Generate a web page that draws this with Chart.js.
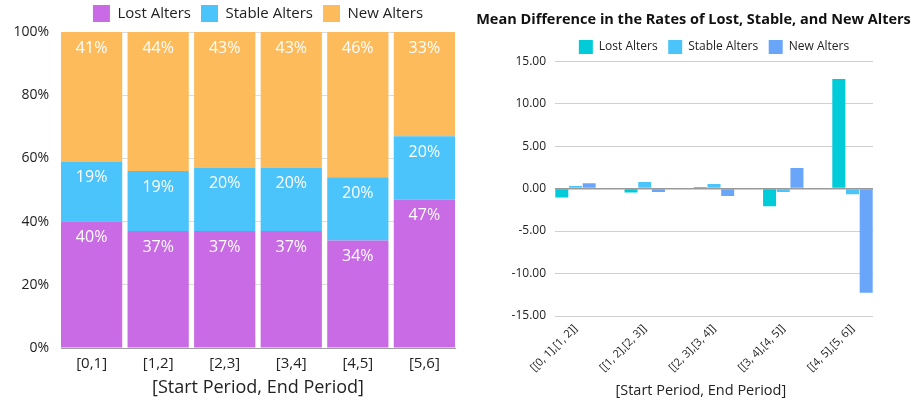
<!DOCTYPE html>
<html>
<head>
<meta charset="utf-8">
<script src="https://cdn.jsdelivr.net/npm/chart.js@4/dist/chart.umd.min.js"></script>
<style>
  html, body { margin: 0; padding: 0; background: #ffffff; }
  body { width: 917px; height: 405px; position: relative; overflow: hidden; }
  #wrapL { position: absolute; left: 0; top: 0; width: 465px; height: 405px; }
  #wrapR { position: absolute; left: 470px; top: 0; width: 447px; height: 405px; }
</style>
</head>
<body>
<div id="wrapL"><canvas id="left"></canvas></div>
<div id="wrapR"><canvas id="right"></canvas></div>
<script>
// ---------- data ----------
const periods = ["[0,1]", "[1,2]", "[2,3]", "[3,4]", "[4,5]", "[5,6]"];
const lostShare = [40, 37, 37, 37, 34, 47];
const stableShare = [19, 19, 20, 20, 20, 20];
const newShare = [41, 44, 43, 43, 46, 33];
const yPercentTicks = [0, 20, 40, 60, 80, 100];

const transitions = ["[[0, 1],[1, 2]]", "[[1, 2],[2, 3]]", "[[2, 3],[3, 4]]", "[[3, 4],[4, 5]]", "[[4, 5],[5, 6]]"];
const lostDiff = [-1.05, -0.47, 0.20, -2.07, 12.90];
const stableDiff = [0.31, 0.78, 0.55, -0.39, -0.66];
const newDiff = [0.63, -0.39, -0.86, 2.42, -12.26];
const yDiffTicks = [-15, -10, -5, 0, 5, 10, 15];

const FONT = "'Open Sans', 'DejaVu Sans', sans-serif";
const TEXT = '#222222';

// in-bar value labels (white, near top of each segment)
const valueLabels = {
  id: 'valueLabels',
  afterDatasetsDraw(chart) {
    const ctx = chart.ctx;
    ctx.save();
    ctx.fillStyle = '#ffffff';
    ctx.font = "16px " + FONT;
    ctx.textAlign = 'center';
    ctx.textBaseline = 'middle';
    chart.data.datasets.forEach((ds, di) => {
      const meta = chart.getDatasetMeta(di);
      meta.data.forEach((bar, i) => {
        const v = ds.data[i].y;
        ctx.fillText(v + '%', bar.x, bar.y + 16);
      });
    });
    ctx.restore();
  }
};

// ---------- left: 100% stacked bars ----------
new Chart(document.getElementById('left'), {
  type: 'bar',
  data: {
    datasets: [
      { label: 'Lost Alters', data: lostShare.map((v, i) => ({ x: i, y: v })), backgroundColor: '#C86BE4' },
      { label: 'Stable Alters', data: stableShare.map((v, i) => ({ x: i, y: v })), backgroundColor: '#4BC3FB' },
      { label: 'New Alters', data: newShare.map((v, i) => ({ x: i, y: v })), backgroundColor: '#FDBB5C' }
    ]
  },
  options: {
    responsive: true,
    maintainAspectRatio: false,
    animation: false,
    layout: { padding: { top: -5, left: 0, right: 10, bottom: 0 } },
    datasets: { bar: { categoryPercentage: 0.92, barPercentage: 1.0, borderWidth: 0 } },
    plugins: {
      legend: {
        position: 'top',
        fullSize: false,
        labels: { boxWidth: 17, boxHeight: 17, padding: 10, color: TEXT, font: { family: FONT, size: 15 } }
      },
      tooltip: { enabled: false },
      valueLabels: {}
    },
    scales: {
      x: {
        type: 'linear',
        stacked: true,
        offset: false,
        min: -0.46, max: 5.46,
        afterBuildTicks(scale) { scale.ticks = periods.map((_, i) => ({ value: i })); },
        afterFit(scale) { scale.height = 57; },
        grid: { display: false, drawTicks: false },
        border: { display: true, color: '#9e9e9e', width: 1 },
        ticks: {
          padding: 7, color: TEXT, font: { family: FONT, size: 15 },
          maxRotation: 0, autoSkip: false,
          callback: (v) => periods[v]
        },
        title: {
          display: true, text: '[Start Period, End Period]', color: TEXT,
          font: { family: FONT, size: 18 }, padding: { top: 0, bottom: 6 }
        }
      },
      y: {
        stacked: true,
        min: 0, max: 100,
        afterBuildTicks(scale) { scale.ticks = yPercentTicks.map(v => ({ value: v })); },
        afterFit(scale) { scale.width = 61; },
        grid: { color: '#dcdcdc', drawTicks: false },
        border: { display: false },
        ticks: { padding: 12, color: TEXT, font: { family: FONT, size: 14 }, callback: (v) => v + '%' }
      }
    }
  },
  plugins: [valueLabels]
});

// ---------- right: grouped mean differences ----------
new Chart(document.getElementById('right'), {
  type: 'bar',
  data: {
    datasets: [
      { label: 'Lost Alters', data: lostDiff.map((v, i) => ({ x: i, y: v })), backgroundColor: '#00CBD9' },
      { label: 'Stable Alters', data: stableDiff.map((v, i) => ({ x: i, y: v })), backgroundColor: '#4BC4FA' },
      { label: 'New Alters', data: newDiff.map((v, i) => ({ x: i, y: v })), backgroundColor: '#69A6FA' }
    ]
  },
  options: {
    responsive: true,
    maintainAspectRatio: false,
    animation: false,
    layout: { padding: 0 },
    datasets: { bar: { categoryPercentage: 0.593, barPercentage: 0.95, borderWidth: 0 } },
    plugins: {
      title: {
        display: true,
        text: 'Mean Difference in the Rates of Lost, Stable, and New Alters',
        color: '#111111',
        font: { family: FONT, size: 14.5, weight: 'bold' },
        padding: { top: 10.8, bottom: 1.3 }
      },
      legend: {
        position: 'top',
        fullSize: false,
        maxHeight: 31.7,
        labels: { boxWidth: 14, boxHeight: 14, padding: 10.5, color: TEXT, font: { family: FONT, size: 12 } }
      },
      tooltip: { enabled: false }
    },
    scales: {
      x: {
        type: 'linear',
        offset: false,
        min: -0.296, max: 4.296,
        afterBuildTicks(scale) { scale.ticks = transitions.map((_, i) => ({ value: i })); },
        afterFit(scale) { scale.height = 89; },
        grid: { display: false, drawTicks: false },
        border: { display: false },
        ticks: {
          padding: 6, color: TEXT, font: { family: FONT, size: 11 },
          minRotation: 45, maxRotation: 45, autoSkip: false,
          callback: (v) => transitions[v]
        },
        title: {
          display: true, text: '[Start Period, End Period]       ', color: TEXT,
          font: { family: FONT, size: 14.5 }, padding: { top: 4, bottom: 5 }
        }
      },
      y: {
        min: -15, max: 15,
        afterBuildTicks(scale) { scale.ticks = yDiffTicks.map(v => ({ value: v })); },
        afterFit(scale) { scale.width = 85; },
        grid: {
          drawTicks: false,
          color: (c) => (c.tick && c.tick.value === 0) ? '#9a9a9a' : '#d0d0d0',
          lineWidth: (c) => (c.tick && c.tick.value === 0) ? 1.5 : 1
        },
        border: { display: false },
        ticks: { padding: 9, color: TEXT, font: { family: FONT, size: 12 }, callback: (v) => Number(v).toFixed(2) }
      },
      spacer: {
        position: 'right',
        display: true,
        afterFit(scale) { scale.width = 44; },
        grid: { display: false, drawTicks: false },
        border: { display: false },
        ticks: { display: false }
      }
    }
  }
});
</script>
</body>
</html>
